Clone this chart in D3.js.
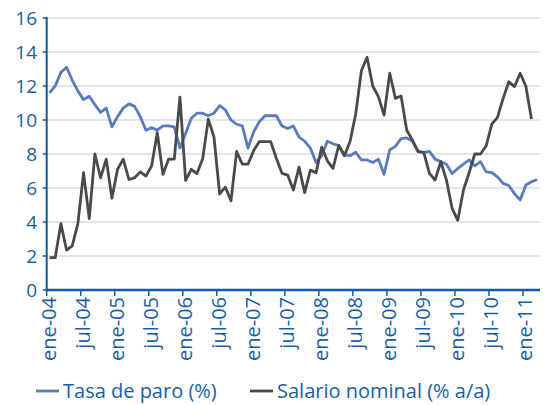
<!DOCTYPE html>
<html>
<head>
<meta charset="utf-8">
<script src="https://cdn.jsdelivr.net/npm/d3@7"></script>
<style>
  body { margin: 0; background: #fff; }
  text { font-family: "Open Sans", sans-serif; fill: #1a5ea6; }
</style>
</head>
<body>
<script>
// months ene-04 .. mar-11
const meses = ["ene","feb","mar","abr","may","jun","jul","ago","sep","oct","nov","dic"];
const anios = ["04","05","06","07","08","09","10","11"];
const categories = [];
anios.forEach(a => meses.forEach(m => categories.push(m + "-" + a)));
categories.splice(87); // hasta mar-11

const yTicks = [0, 2, 4, 6, 8, 10, 12, 14, 16];
const xTickLabels = ["ene-04","jul-04","ene-05","jul-05","ene-06","jul-06","ene-07","jul-07","ene-08","jul-08","ene-09","jul-09","ene-10","jul-10","ene-11"];

const tasaParo = [11.6, 12.0, 12.8, 13.1, 12.35, 11.7, 11.2, 11.4, 10.9, 10.45, 10.7, 9.6,
  10.2, 10.7, 10.95, 10.8, 10.2, 9.4, 9.55, 9.4, 9.65, 9.65, 9.6, 8.35,
  9.2, 10.1, 10.4, 10.4, 10.25, 10.4, 10.85, 10.6, 10.0, 9.75, 9.65, 8.35,
  9.3, 9.9, 10.25, 10.25, 10.25, 9.65, 9.5, 9.65, 9.0, 8.75, 8.35, 7.5,
  7.9, 8.75, 8.6, 8.5, 7.95, 7.9, 8.1, 7.65, 7.65, 7.5, 7.7, 6.8,
  8.25, 8.45, 8.9, 8.95, 8.75, 8.15, 8.1, 8.15, 7.7, 7.55, 7.4, 6.85,
  7.15, 7.4, 7.65, 7.3, 7.55, 6.95, 6.9, 6.65, 6.27, 6.15, 5.67, 5.3,
  6.18, 6.37, 6.5];

const salarioNominal = [1.9, 1.9, 3.9, 2.35, 2.6, 3.9, 6.9, 4.2, 8.0, 6.6, 7.7, 5.4,
  7.1, 7.7, 6.5, 6.6, 6.95, 6.7, 7.3, 9.25, 6.8, 7.7, 7.7, 11.35,
  6.45, 7.1, 6.85, 7.7, 10.05, 9.0, 5.65, 6.05, 5.25, 8.15, 7.4, 7.4,
  8.2, 8.73, 8.73, 8.73, 7.75, 6.86, 6.76, 5.88, 7.23, 5.73, 7.05, 6.9,
  8.4, 7.6, 7.16, 8.5, 7.9, 8.73, 10.35, 12.9, 13.69, 12.0, 11.37, 10.29,
  12.75, 11.27, 11.41, 9.4, 8.82, 8.14, 8.1, 6.86, 6.47, 7.55, 6.47, 4.8,
  4.1, 5.88, 6.9, 8.0, 8.0, 8.47, 9.76, 10.16, 11.27, 12.25, 11.96, 12.75,
  12.0, 10.06];

const series = [
  { name: "Tasa de paro (%)", values: tasaParo, color: "#5b7bbd" },
  { name: "Salario nominal (% a/a)", values: salarioNominal, color: "#4a4a4a" }
];

const width = 550, height = 405;
const mLeft = 46.7, mRight = 540, mTop = 18, mBottom = 290;
const axisColor = "#0d5aa7";

const svg = d3.select("body").append("svg").attr("width", width).attr("height", height);

const x = d3.scaleBand().domain(categories).range([mLeft, mRight]).padding(0);
const y = d3.scaleLinear().domain([0, 16]).range([mBottom, mTop]);

// gridlines
svg.append("g").selectAll("line")
  .data(yTicks.filter(d => d > 0))
  .enter().append("line")
  .attr("x1", mLeft).attr("x2", mRight)
  .attr("y1", d => y(d)).attr("y2", d => y(d))
  .attr("stroke", "#d6dcee").attr("stroke-width", 1.6);

// y axis
const gy = svg.append("g");
gy.append("line").attr("x1", mLeft).attr("x2", mLeft).attr("y1", mTop - 1).attr("y2", mBottom)
  .attr("stroke", axisColor).attr("stroke-width", 2);
gy.selectAll(".tk").data(yTicks).enter().append("line")
  .attr("x1", mLeft - 4).attr("x2", mLeft).attr("y1", d => y(d)).attr("y2", d => y(d))
  .attr("stroke", axisColor).attr("stroke-width", 1.5);
gy.selectAll("text").data(yTicks).enter().append("text")
  .attr("x", 37).attr("y", d => y(d)).attr("dy", "0.36em")
  .attr("text-anchor", "end").style("font-size", "19px")
  .text(d => d);

// lines
const line = d3.line()
  .x((d, i) => x(categories[i]) + x.bandwidth() / 2)
  .y(d => y(d));

svg.append("g").selectAll("path").data(series).enter().append("path")
  .attr("d", d => line(d.values))
  .attr("fill", "none")
  .attr("stroke", d => d.color)
  .attr("stroke-width", 2.8)
  .attr("stroke-linejoin", "round");

// x axis
const gx = svg.append("g");
gx.append("line").attr("x1", mLeft - 1).attr("x2", mRight).attr("y1", mBottom).attr("y2", mBottom)
  .attr("stroke", axisColor).attr("stroke-width", 2.5);
gx.selectAll(".tk").data(xTickLabels).enter().append("line")
  .attr("x1", d => x(d)).attr("x2", d => x(d))
  .attr("y1", mBottom).attr("y2", mBottom + 6)
  .attr("stroke", axisColor).attr("stroke-width", 1.5);
gx.selectAll("text").data(xTickLabels).enter().append("text")
  .attr("transform", d => `translate(${x(d) + 2},${mBottom + 7}) rotate(-90)`)
  .attr("dy", "0.36em")
  .attr("text-anchor", "end").style("font-size", "20px")
  .text(d => d);

// legend
const legX = [36, 250];
const leg = svg.append("g").selectAll("g").data(series).enter().append("g")
  .attr("transform", (d, i) => `translate(${legX[i]},391)`);
leg.append("line").attr("x1", 0).attr("x2", 23).attr("y1", 0).attr("y2", 0)
  .attr("stroke", d => d.color).attr("stroke-width", 2.8);
leg.append("text").attr("x", 27).attr("y", 0).attr("dy", "0.36em")
  .style("font-size", "20px").text(d => d.name);
</script>
</body>
</html>
